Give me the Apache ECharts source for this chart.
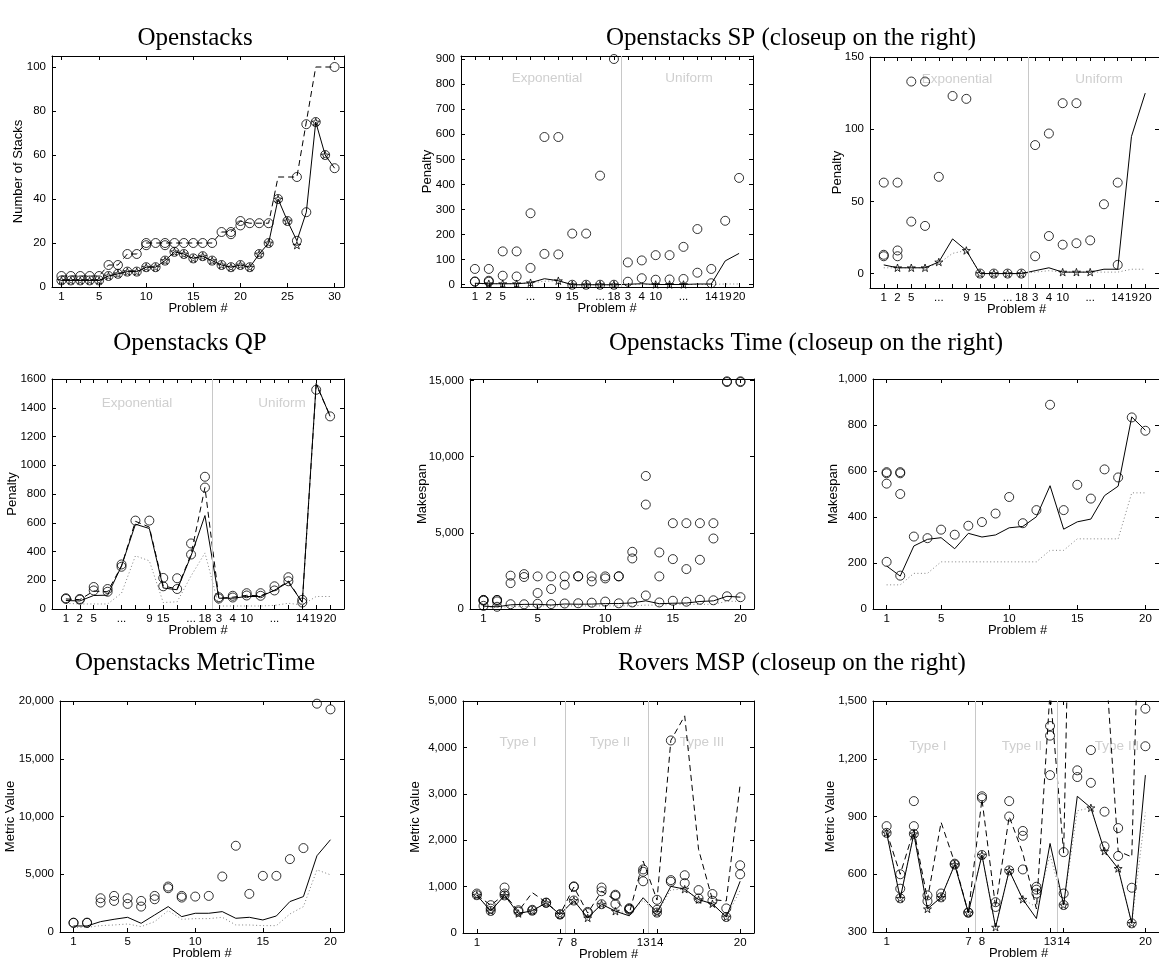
<!DOCTYPE html>
<html><head><meta charset="utf-8">
<script src="https://cdn.jsdelivr.net/npm/echarts@6/dist/echarts.min.js"></script>
<style>html,body{margin:0;padding:0;background:#fff}#c{width:1159px;height:963px}</style>
</head><body><div id="c"></div>
<script>
// ---------- DATA ----------
// Openstacks (problems 1..30)
const stacksUpper  = [5,5,5,5,5,10,10,15,15,20,20,20,20,20,20,20,20,25,25,30,29,29,29,null,null,50,74,null,null,100];
const stacksUpper2 = [null,null,null,null,null,null,null,null,null,19,null,19,null,null,null,null,null,null,24,28,null,null,null,null,null,null,null,null,null,null];
const stacksLower  = [3,3,3,3,3,5,6,7,7,9,9,12,16,15,13,14,12,10,9,10,9,15,20,40,30,21,34,75,60,54];
const stacksStars  = [3,3,3,3,3,5,6,7,7,9,9,12,16,15,13,14,12,10,9,10,9,15,20,40,30,19,null,75,60,null];
const stacksDashed = [5,5,5,5,5,10,10,15,15,20,20,20,20,20,20,20,20,25,25,30,29,29,29,50,50,50,75,100,100,100];
const stacksSolid  = [3,3,3,3,3,5,6,7,7,9,9,12,16,15,13,14,12,10,9,10,9,15,20,40,30,21,34,75,60,54];

// Openstacks SP / QP problem labels (20 positions)
const spLabels = ['1','2','5','','...','','9','15','','...','18','3','4','10','','...','','14','19','20'];
const spCirc1 = [63,63,133,133,285,589,589,204,204,435,900,89,97,118,118,151,222,63,255,426];
const spCirc2 = [13,16,36,33,67,123,121,0,0,0,0,12,26,20,21,23,48,6,null,null];
const spCirc3 = [12,12,null,null,null,null,null,null,null,null,null,null,null,null,null,null,null,null,null,null];
const spStars = [null,4,4,4,8,null,16,0,0,0,0,null,null,1,1,1,null,null,null,null];
const spSolid = [6,4,4,4,8,24,16,0,0,0,0,2,4,1,1,1,3,3,95,125];
const spDotted = [4,4,4,4,7,14,16,0,0,0,0,1,2,1,1,1,1,1,3,3];

// Openstacks QP
const qpCirc1 = [75,70,153,139,310,615,615,216,214,456,920,82,92,110,110,158,221,64,1525,1340];
const qpCirc2 = [70,65,129,120,294,null,null,158,139,379,845,73,80,94,92,129,193,45,null,null];
const qpSolid = [59,56,94,96,299,590,560,146,134,370,650,75,75,87,87,130,186,47,1570,1340];
const qpDashed = [70,65,125,120,300,610,570,160,140,380,845,75,82,95,92,130,195,45,1560,1345];
const qpDotted = [40,35,35,35,110,370,335,45,50,230,390,21,21,21,21,25,40,28,87,87];

// Openstacks Time (problems 1..20)
const timeC1 = [590,590,2190,2290,2140,2140,2140,2140,2140,2140,2140,3755,8734,3712,5633,5633,5633,5633,14950,14950];
const timeC2 = [595,595,1700,2100,1050,1310,1594,2150,1812,2009,2150,3319,6856,2140,3275,2620,3231,4629,14900,14900];
const timeC3 = [545,500,315,308,345,323,362,378,415,487,373,430,888,430,540,480,607,572,833,775];
const timeC4 = [205,145,null,null,null,null,null,null,null,null,null,null,null,null,null,null,null,null,null,null];
const timeSolid = [187,143,274,303,310,262,329,313,322,353,359,401,536,347,379,391,493,534,835,777];
const timeDotted = [105,105,155,155,205,205,205,205,205,205,205,205,255,255,305,305,305,305,505,505];

// Openstacks MetricTime
const mtC1 = [810,810,2923,3126,2923,2692,3126,3936,3126,3068,3126,4805,7467,3300,4862,4862,6310,7265,19768,19276];
const mtC2 = [790,790,2547,2692,2431,2200,2836,3792,2981,null,null,null,null,null,null,null,null,null,null,null];
const mtSolid = [521,521,897,1100,1273,753,1476,2200,1331,1621,1621,1765,1187,1273,1042,1389,2634,3068,6600,7989];
const mtDotted = [405,405,550,608,695,463,897,1852,1100,1158,1158,1273,608,608,550,550,1563,2200,5383,4949];

// Rovers MSP
const rvC1 = [850,600,980,490,500,655,402,1005,455,980,825,535,1370,715,4150,1245,925,840,530,1460];
const rvC2 = [null,525,850,460,null,null,null,995,430,900,800,520,1320,500,1140,1075,745,695,null,1265];
const rvC3 = [815,475,810,null,480,650,400,700,null,620,625,500,1115,440,1105,null,null,null,345,null];
const rvStars = [815,475,810,420,480,650,400,700,325,620,470,null,null,440,null,945,720,630,345,null];
const rvSolid = [815,475,810,420,480,650,400,700,325,620,470,370,760,440,1005,945,720,630,345,1115];
const rvDashed = [820,600,830,470,870,660,400,990,430,900,710,420,1550,710,4150,4680,1800,720,690,3200];
const rvDotted = [815,475,810,420,480,650,400,700,325,620,470,430,700,440,930,945,720,630,345,920];

// Tick values
const ticks1to20 = [1,2,3,4,5,6,7,8,9,10,11,12,13,14,15,16,17,18,19,20];
const stacksXTicks = [1,5,10,15,20,25,30];
const timeXTicks = [1,5,10,15,20];
const roversXTicks = [1,7,8,13,14,20];

// ---------- BUILD ----------
const STAR = 'path://M50,2 L61.2,36.2 L97.6,36.2 L68.2,57.6 L79.4,91.8 L50,70.6 L20.6,91.8 L31.8,57.6 L2.4,36.2 L38.8,36.2 Z';
const SANS = 'Liberation Sans, Arial, sans-serif';
const SERIF = 'Liberation Serif, Times New Roman, serif';
const DOT = [1,2.5];
const DOTC = '#808080';
function pts(arr){ const o=[]; arr.forEach((v,i)=>{ if(v!==null && v!==undefined) o.push([i+1,v]); }); return o; }
function range(a,b,s){ const o=[]; for(let v=a; v<=b+1e-9; v+=s) o.push(v); return o; }
const comma = v => Math.round(v).toLocaleString('en-US');

function circ(arr){ return {type:'scatter', symbol:'circle', symbolSize:9, data:pts(arr), silent:true, z:4,
  itemStyle:{color:'rgba(0,0,0,0)', borderColor:'#000', borderWidth:1}}; }
function star(arr){ return {type:'scatter', symbol:STAR, symbolSize:8, symbolKeepAspect:true, data:pts(arr), silent:true, z:5,
  itemStyle:{color:'rgba(0,0,0,0)', borderColor:'#000', borderWidth:1}}; }
function line(arr, type, color){ return {type:'line', data:pts(arr), symbol:'none', silent:true, z:3,
  lineStyle:{color:color||'#000', width:1, type:type||'solid'}}; }
function sep(s, xs){ s.markLine = {silent:true, symbol:['none','none'], label:{show:false},
  lineStyle:{color:'#c8c8c8', type:'solid', width:1}, data: xs.map(x=>({xAxis:x}))}; return s; }

const grids=[], xAxes=[], yAxes=[], series=[], graphics=[];
function axisBase(gi, pos, min, max, tickVals, showLabel, fmt){
  return {gridIndex:gi, type:'value', min:min, max:max, position:pos,
    axisLine:{show:true, onZero:false, lineStyle:{color:'#000', width:1}},
    axisTick:{show:true, inside:true, length:4, customValues:tickVals, lineStyle:{color:'#000', width:1}},
    axisLabel:{show:showLabel, customValues:tickVals, formatter:fmt, margin:(pos==='left'?6:4),
      color:'#000', fontSize:11.5, fontFamily:SANS},
    splitLine:{show:false}};
}
function panel(p){
  const gi = grids.length;
  grids.push({left:p.left, top:p.top, width:p.width, height:p.height, containLabel:false});
  const xi = xAxes.length, yi = yAxes.length;
  const fx = p.xLabels ? (v => p.xLabels[Math.round(v)-1] || '') : (v => String(v));
  const fy = p.yFmt || (v => String(v));
  xAxes.push(axisBase(gi,'bottom',p.xmin,p.xmax,p.xTicks,true,fx));
  xAxes.push(axisBase(gi,'top',p.xmin,p.xmax,p.xTicks,false,fx));
  yAxes.push(axisBase(gi,'left',p.ymin,p.ymax,p.yTicks,true,fy));
  yAxes.push(axisBase(gi,'right',p.ymin,p.ymax,p.yTicks,false,fy));
  p.series.forEach(s => { s.xAxisIndex = xi; s.yAxisIndex = yi; series.push(s); });
  graphics.push({type:'text', x:p.left+p.width/2, y:p.top+p.height+21, silent:true,
    style:{text:'Problem #', font:'13px '+SANS, fill:'#000', textAlign:'center', textVerticalAlign:'middle'}});
  graphics.push({type:'text', x:p.yNameX, y:p.top+p.height/2, rotation:Math.PI/2, silent:true,
    style:{text:p.yName, font:'13px '+SANS, fill:'#000', textAlign:'center', textVerticalAlign:'middle'}});
  (p.regions||[]).forEach(r => graphics.push({type:'text', x:r[1], y:r[2], silent:true,
    style:{text:r[0], font:'13.5px '+SANS, fill:'#cfcfcf', textAlign:'center', textVerticalAlign:'middle'}}));
}
function title(t, x, y){ graphics.push({type:'text', x:x, y:y, silent:true,
  style:{text:t, font:'25px '+SERIF, fill:'#000', textAlign:'center', textVerticalAlign:'middle'}}); }

// Panel 1: Openstacks
panel({left:52, top:56, width:292, height:231, xmin:0, xmax:31, ymin:0, ymax:105,
  xTicks:stacksXTicks, yTicks:range(0,100,20), yName:'Number of Stacks', yNameX:18,
  series:[line(stacksDashed,[6,4]), line(stacksSolid), circ(stacksUpper), circ(stacksUpper2), circ(stacksLower), star(stacksStars)]});
// Panel 2: SP
panel({left:461, top:56, width:292, height:231, xmin:0, xmax:21, ymin:-9, ymax:912,
  xTicks:ticks1to20, xLabels:spLabels, yTicks:range(0,900,100), yName:'Penalty', yNameX:427,
  regions:[['Exponential',547,78],['Uniform',689,78]],
  series:[sep(line(spDotted,DOT,DOTC),[11.5]), line(spSolid), circ(spCirc1), circ(spCirc2), circ(spCirc3), star(spStars)]});
// Panel 3: SP closeup
panel({left:870, top:57, width:293, height:231, xmin:0, xmax:21, ymin:-10, ymax:150,
  xTicks:ticks1to20, xLabels:spLabels, yTicks:[0,50,100,150], yName:'Penalty', yNameX:837,
  regions:[['Exponential',957,79],['Uniform',1099,79]],
  series:[sep(line(spDotted,DOT,DOTC),[11.5]), line(spSolid), circ(spCirc1), circ(spCirc2), circ(spCirc3), star(spStars)]});
// Panel 4: QP
panel({left:52, top:379, width:292, height:230, xmin:0, xmax:21, ymin:0, ymax:1600,
  xTicks:ticks1to20, xLabels:spLabels, yTicks:range(0,1600,200), yName:'Penalty', yNameX:12,
  regions:[['Exponential',137,403],['Uniform',282,403]],
  series:[sep(line(qpDotted,DOT,DOTC),[11.5]), line(qpDashed,[6,4]), line(qpSolid), circ(qpCirc1), circ(qpCirc2)]});
// Panel 5: Time
panel({left:470, top:379, width:284, height:230, xmin:0, xmax:21, ymin:0, ymax:15100,
  xTicks:timeXTicks, yTicks:[0,5000,10000,15000], yFmt:comma, yName:'Makespan', yNameX:422,
  series:[line(timeDotted,DOT,DOTC), line(timeSolid), circ(timeC1), circ(timeC2), circ(timeC3), circ(timeC4)]});
// Panel 6: Time closeup
panel({left:873, top:379, width:289, height:230, xmin:0, xmax:21, ymin:0, ymax:1000,
  xTicks:timeXTicks, yTicks:range(0,1000,200), yFmt:comma, yName:'Makespan', yNameX:833,
  series:[line(timeDotted,DOT,DOTC), line(timeSolid), circ(timeC1), circ(timeC2), circ(timeC3), circ(timeC4)]});
// Panel 7: MetricTime
panel({left:60, top:701, width:284, height:231, xmin:0, xmax:21, ymin:0, ymax:20000,
  xTicks:timeXTicks, yTicks:range(0,20000,5000), yFmt:comma, yName:'Metric Value', yNameX:10,
  series:[line(mtDotted,DOT,DOTC), line(mtSolid), circ(mtC1), circ(mtC2)]});
// Panel 8: Rovers
panel({left:463, top:701, width:291, height:232, xmin:0, xmax:21, ymin:0, ymax:5000,
  xTicks:roversXTicks, yTicks:range(0,5000,1000), yFmt:comma, yName:'Metric Value', yNameX:415,
  regions:[['Type I',518,742],['Type II',610,742],['Type III',702,742]],
  series:[sep(line(rvDotted,DOT,DOTC),[7.35,13.35]), line(rvDashed,[6,4]), line(rvSolid), circ(rvC1), circ(rvC2), circ(rvC3), star(rvStars)]});
// Panel 9: Rovers closeup
panel({left:873, top:701, width:291, height:231, xmin:0, xmax:21, ymin:300, ymax:1500,
  xTicks:roversXTicks, yTicks:range(300,1500,300), yFmt:comma, yName:'Metric Value', yNameX:830,
  regions:[['Type I',928,746],['Type II',1022,746],['Type III',1117,746]],
  series:[sep(line(rvDotted,DOT,DOTC),[7.5,13.5]), line(rvDashed,[6,4]), line(rvSolid), circ(rvC1), circ(rvC2), circ(rvC3), star(rvStars)]});

title('Openstacks', 195, 38);
title('Openstacks SP (closeup on the right)', 791, 38);
title('Openstacks QP', 190, 343);
title('Openstacks Time (closeup on the right)', 806, 343);
title('Openstacks MetricTime', 195, 663);
title('Rovers MSP (closeup on the right)', 792, 663);

const chart = echarts.init(document.getElementById('c'), null, {renderer:'canvas'});
chart.setOption({animation:false, backgroundColor:'#fff', grid:grids, xAxis:xAxes, yAxis:yAxes, series:series, graphic:graphics});
</script></body></html>
